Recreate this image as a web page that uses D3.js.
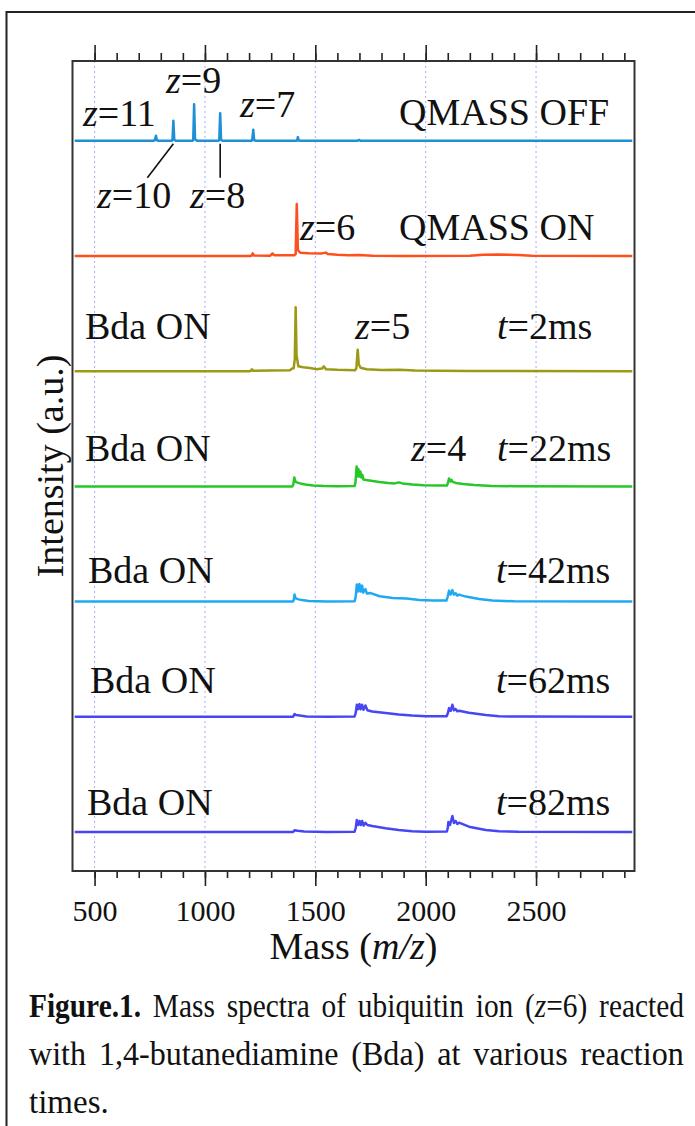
<!DOCTYPE html>
<html>
<head>
<meta charset="utf-8">
<script src="https://cdn.jsdelivr.net/npm/d3@7/dist/d3.min.js"></script>
<style>
html, body { margin: 0; padding: 0; background: #fff; }
svg { display: block; }
text { font-family: "Liberation Serif", "Times New Roman", serif; fill: #111; }
</style>
</head>
<body>
<svg id="chart" width="695" height="1126"></svg>
<script>
// axis
const xMajorTicks = [500, 1000, 1500, 2000, 2500]
const xDomain = [400, 2946]

// spectra, [m/z, intensity a.u.], top to bottom
const specOff = [
    [410, 0], [765, 0], [773, 0.6], [778, 5], [782, 0.6], [790, 0],
    [849, 0], [853, 0.8], [857, 20], [861, 1], [869, 0],
    [943, 0], [947, 1], [951, 36.5], [955, 1.5], [964, 0],
    [1061, 0], [1065, 1], [1069, 27.5], [1073, 1], [1082, 0],
    [1210, 0], [1214, 0.6], [1219, 11], [1223, 0.6], [1232, 0],
    [1414, 0], [1418, 0.5], [1421, 3.7], [1425, 0.3], [1434, 0],
    [1690, 0], [1698, 0.8], [1706, 0], [2936, 0]
]
const specOn = [
    [410, 0], [1205, 0], [1212, 0.5], [1216, 2.6], [1221, 0.5], [1296, 0.3], [1306, 2.5], [1314, 0.8],
    [1405, 0.8], [1411, 2], [1416, 52], [1421, 6], [1432, 3.2], [1470, 2.8], [1530, 2.6],
    [1547, 3.4], [1556, 2], [1600, 1.2], [1650, 0.8], [1698, 1.1], [1760, 0.3], [1900, 0],
    [2200, 0.2], [2260, 1.2], [2330, 1.4], [2420, 1.1], [2480, 0.2], [2936, 0]
]
const specT2 = [
    [410, 0], [1200, 0], [1208, 0.5], [1213, 2], [1218, 0.4], [1300, 0.6], [1385, 1],
    [1393, 2.4], [1402, 3], [1407, 12], [1411, 64], [1415, 16], [1423, 5], [1445, 4],
    [1476, 3.2], [1506, 2], [1530, 2.6], [1539, 4.8], [1548, 2], [1600, 1.4], [1680, 1],
    [1686, 3], [1692, 21.5], [1697, 7], [1705, 3.5], [1733, 2], [1800, 1.2], [1883, 1.5],
    [1950, 0.6], [2050, 0.4], [2200, 0.2], [2936, 0]
]
const specT22 = [
    [410, 0], [1396, 0], [1400, 1.5], [1405, 9], [1409, 5], [1416, 4], [1432, 3],
    [1455, 2], [1490, 1], [1540, 0.5], [1600, 0.2], [1678, 0.3], [1682, 4],
    [1687, 20], [1691, 10], [1695, 17.5], [1699, 10], [1704, 15], [1708, 9], [1713, 11.5],
    [1718, 7], [1730, 6.5], [1760, 5.5], [1790, 4.5], [1830, 3.5], [1860, 3], [1878, 4],
    [1895, 3], [1940, 2], [1990, 1.2], [2060, 0.8], [2097, 1], [2102, 4.5], [2106, 8],
    [2111, 5], [2117, 6.5], [2122, 4.5], [2136, 3.5], [2170, 2.4], [2220, 1.3],
    [2300, 0.5], [2400, 0.2], [2936, 0]
]
const specT42 = [
    [410, 0], [1398, 0], [1402, 1.5], [1406, 7], [1410, 3.5], [1420, 2.5], [1440, 1.5],
    [1470, 0.6], [1550, 0.2], [1678, 0.3], [1683, 5], [1688, 17], [1693, 10], [1700, 17.5],
    [1705, 10], [1712, 16], [1717, 9], [1727, 12.5], [1734, 8], [1751, 8.5], [1791, 5.3],
    [1851, 3.7], [1912, 3], [1972, 1.7], [2032, 1], [2094, 1], [2100, 5], [2106, 11],
    [2113, 7], [2121, 11.5], [2128, 7], [2136, 8.3], [2143, 6], [2151, 7], [2182, 5],
    [2242, 2.7], [2302, 1], [2400, 0.3], [2936, 0]
]
const specT62 = [
    [410, 0], [1398, 0], [1402, 1], [1406, 2.8], [1412, 1.8], [1430, 1.2], [1460, 0.4],
    [1550, 0], [1678, 0.3], [1683, 4], [1688, 12], [1693, 7.5], [1700, 12.7], [1705, 7.5],
    [1712, 12], [1718, 7], [1727, 11.3], [1736, 6.5], [1758, 5.3], [1818, 3.7], [1878, 2.3],
    [1938, 1.3], [2000, 0.6], [2095, 0.6], [2101, 4], [2106, 8.7], [2113, 6], [2121, 12],
    [2128, 6.5], [2136, 7.7], [2143, 5.5], [2151, 6], [2196, 4], [2272, 1.7], [2332, 0.6],
    [2420, 0.2], [2936, 0]
]
const specT82 = [
    [410, 0], [1398, 0], [1402, 0.6], [1406, 1.8], [1420, 1.2], [1450, 0.5], [1550, 0],
    [1678, 0.3], [1683, 4], [1688, 12], [1694, 7], [1700, 11], [1706, 7], [1712, 11],
    [1719, 6.5], [1727, 9.3], [1736, 7], [1758, 6], [1818, 3.7], [1878, 2], [1938, 0.7],
    [2000, 0.3], [2096, 0.6], [2100, 4], [2103, 10], [2110, 7], [2121, 16], [2128, 9],
    [2136, 11], [2143, 8], [2151, 9.3], [2196, 5.3], [2272, 2], [2332, 0.7], [2420, 0.2],
    [2936, 0]
]

const spectra = [specOff, specOn, specT2, specT22, specT42, specT62, specT82]
const spectrumColors = ['#1f8fd6', '#ff4f1f', '#9c9a14', '#26c726', '#1ea9f2', '#4646f5', '#4646f5']
const stackStep = 115.2

const svg = d3.select('#chart')

const margin = { top: 61, right: 60.5, bottom: 255, left: 72.5 }
const width = 695, height = 1126

const x = d3.scaleLinear().domain(xDomain).range([margin.left, width - margin.right])
const y = d3.scaleLinear().domain([-39, 771]).range([height - margin.bottom, margin.top])

// outer frame of the figure
svg.append('path')
    .attr('d', `M6.5,${height} L6.5,12 L${width},12`)
    .attr('fill', 'none')
    .attr('stroke', '#222')
    .attr('stroke-width', 2)

// dotted grid
svg.append('g')
    .selectAll('line')
    .data(xMajorTicks)
    .join('line')
    .attr('x1', d => x(d)).attr('x2', d => x(d))
    .attr('y1', margin.top).attr('y2', height - margin.bottom)
    .attr('stroke', '#a9a9ff')
    .attr('stroke-width', 1)
    .attr('stroke-dasharray', '2,3')

// spectra
const line = (offset) => d3.line()
    .x(d => x(d[0]))
    .y(d => y(d[1] + offset))

spectra.forEach((s, i) => {
    const offset = (spectra.length - 1 - i) * stackStep
    svg.append('path')
        .datum(s)
        .attr('d', line(offset))
        .attr('fill', 'none')
        .attr('stroke', spectrumColors[i])
        .attr('stroke-width', 2.5)
        .attr('stroke-linejoin', 'round')
})

// axes, ticks outward top and bottom
const minorTicks = d3.range(500, 2901, 100)
const bottomAxis = d3.axisBottom(x).tickValues(xMajorTicks).tickSize(15).tickSizeOuter(0).tickPadding(14).tickFormat(d3.format('d'))
const topAxis = d3.axisTop(x).tickValues(xMajorTicks).tickSize(16).tickSizeOuter(0).tickFormat('')

const gb = svg.append('g').attr('transform', `translate(0,${height - margin.bottom})`).call(bottomAxis)
svg.append('g').attr('transform', `translate(0,${margin.top})`).call(topAxis)
svg.append('g').attr('transform', `translate(0,${height - margin.bottom})`)
    .call(d3.axisBottom(x).tickValues(minorTicks).tickSize(7).tickSizeOuter(0).tickFormat(''))
svg.append('g').attr('transform', `translate(0,${margin.top})`)
    .call(d3.axisTop(x).tickValues(minorTicks).tickSize(8).tickSizeOuter(0).tickFormat(''))

svg.selectAll('.domain').remove()
svg.selectAll('.tick line').attr('stroke', '#222').attr('stroke-width', 1.6)
gb.selectAll('.tick text')
    .attr('font-family', '"Liberation Serif", serif')
    .attr('font-size', 30)
    .attr('fill', '#111')
    .attr('dy', '0.71em')

// plot box
svg.append('rect')
    .attr('x', margin.left).attr('y', margin.top)
    .attr('width', width - margin.left - margin.right)
    .attr('height', height - margin.top - margin.bottom)
    .attr('fill', 'none')
    .attr('stroke', '#333')
    .attr('stroke-width', 2)

// axis titles
const xt = svg.append('text')
    .attr('x', (margin.left + width - margin.right) / 2)
    .attr('y', 959)
    .attr('text-anchor', 'middle')
    .attr('font-size', 38)
xt.append('tspan').text('Mass (')
xt.append('tspan').attr('font-style', 'italic').text('m/z')
xt.append('tspan').text(')')

svg.append('text')
    .attr('transform', `translate(63,${(margin.top + height - margin.bottom) / 2}) rotate(-90)`)
    .attr('text-anchor', 'middle')
    .attr('font-size', 38)
    .text('Intensity (a.u.)')

// annotations inside the plot
const labels = [
    { x: 83, y: 126, parts: [['z', 1], ['=11', 0]] },
    { x: 166, y: 93, parts: [['z', 1], ['=9', 0]] },
    { x: 240, y: 117, parts: [['z', 1], ['=7', 0]] },
    { x: 97, y: 208, parts: [['z', 1], ['=10', 0]] },
    { x: 190, y: 208, parts: [['z', 1], ['=8', 0]] },
    { x: 399, y: 125, parts: [['QMASS OFF', 0]] },
    { x: 300, y: 240, parts: [['z', 1], ['=6', 0]] },
    { x: 399, y: 240, parts: [['QMASS ON', 0]] },
    { x: 85, y: 339, parts: [['Bda ON', 0]] },
    { x: 355, y: 339, parts: [['z', 1], ['=5', 0]] },
    { x: 497, y: 339, parts: [['t', 1], ['=2ms', 0]] },
    { x: 85, y: 461, parts: [['Bda ON', 0]] },
    { x: 411, y: 461, parts: [['z', 1], ['=4', 0]] },
    { x: 497, y: 461, parts: [['t', 1], ['=22ms', 0]] },
    { x: 88, y: 583, parts: [['Bda ON', 0]] },
    { x: 496, y: 583, parts: [['t', 1], ['=42ms', 0]] },
    { x: 90, y: 693, parts: [['Bda ON', 0]] },
    { x: 496, y: 693, parts: [['t', 1], ['=62ms', 0]] },
    { x: 87, y: 815, parts: [['Bda ON', 0]] },
    { x: 496, y: 815, parts: [['t', 1], ['=82ms', 0]] }
]

labels.forEach(l => {
    const t = svg.append('text').attr('x', l.x).attr('y', l.y).attr('font-size', 38)
    l.parts.forEach(p => {
        t.append('tspan').attr('font-style', p[1] ? 'italic' : 'normal').text(p[0])
    })
})

// leader lines for z=10 and z=8
const topBase = y((spectra.length - 1) * stackStep)
svg.append('line')
    .attr('x1', x(857)).attr('y1', topBase + 3)
    .attr('x2', x(857) - 26).attr('y2', topBase + 37)
    .attr('stroke', '#111').attr('stroke-width', 1.6)
svg.append('line')
    .attr('x1', x(1069)).attr('y1', topBase + 3)
    .attr('x2', x(1069)).attr('y2', topBase + 37)
    .attr('stroke', '#111').attr('stroke-width', 1.6)

// caption, squeezed to the justified width of the original
const captionLeft = 29, captionWidth = 655
function fitLine(t, y) {
    const w = t.node().getComputedTextLength()
    t.attr('transform', `translate(${captionLeft},${y}) scale(${captionWidth / w},1)`)
}

const cap1 = svg.append('text').attr('font-size', 33).attr('word-spacing', 5)
cap1.append('tspan').attr('font-weight', 'bold').text('Figure.1.')
cap1.append('tspan').text(' Mass spectra of ubiquitin ion (')
cap1.append('tspan').attr('font-style', 'italic').text('z')
cap1.append('tspan').text('=6) reacted')
fitLine(cap1, 1017)

const cap2 = svg.append('text').attr('font-size', 33).attr('word-spacing', 5)
    .text('with 1,4-butanediamine (Bda) at various reaction')
fitLine(cap2, 1065)

svg.append('text')
    .attr('x', captionLeft).attr('y', 1113)
    .attr('font-size', 33)
    .text('times.')
</script>
</body>
</html>
